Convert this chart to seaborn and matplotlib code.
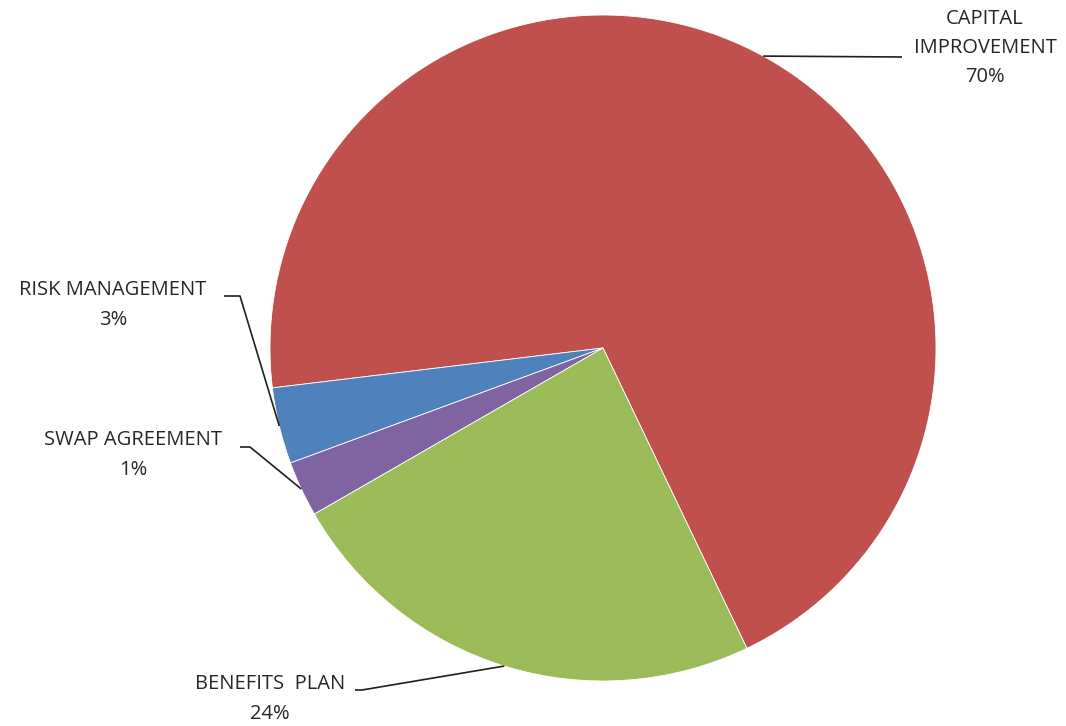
import matplotlib
matplotlib.use("Agg")
import matplotlib.pyplot as plt
import seaborn as sns
import numpy as np

categories = ["CAPITAL\nIMPROVEMENT", "RISK MANAGEMENT", "SWAP AGREEMENT", "BENEFITS  PLAN"]
values = [69.8, 3.7, 2.7, 23.8]
pct_labels = ["70%", "3%", "1%", "24%"]
colors = ["#C0504D", "#4F81BD", "#8064A2", "#9BBB59"]

sns.set_theme(style="white")
plt.rcParams["font.family"] = ["Open Sans", "DejaVu Sans"]

W, H = 1066, 726
fig = plt.figure(figsize=(W / 100, H / 100), dpi=100)
ax = fig.add_axes([0, 0, 1, 1])

cx, cy, R = 603, H - 348, 333
wedges, _ = ax.pie(values, colors=colors, startangle=-64.4, counterclock=True,
                   center=(cx, cy), radius=R, frame=True,
                   wedgeprops=dict(edgecolor="white", linewidth=0.6))
ax.set_xlim(0, W)
ax.set_ylim(0, H)
ax.set_aspect("equal")
ax.axis("off")

# leader-line elbows / ends and label centers (pixel coords from top)
elbows = [[(902, 57)], [(240, 296), (224, 296)], [(250, 447), (240, 447)], [(362, 690), (355, 690)]]
label_pos = [(985, 48), (113, 305), (133, 455), (270, 699)]

for w, cat, pct, el, lp in zip(wedges, categories, pct_labels, elbows, label_pos):
    mid = np.deg2rad((w.theta1 + w.theta2) / 2)
    ax0 = cx + R * np.cos(mid)
    ay0 = cy + R * np.sin(mid)
    xs = [ax0] + [p[0] for p in el]
    ys = [ay0] + [H - p[1] for p in el]
    ax.plot(xs, ys, color="#1f1f1f", lw=1.2, solid_capstyle="butt")
    ax.text(lp[0], H - lp[1], f"{cat}\n{pct}", ha="center", va="center",
            fontsize=14.5, color="#262626", linespacing=1.62)

fig.savefig("out.png", dpi=100)
